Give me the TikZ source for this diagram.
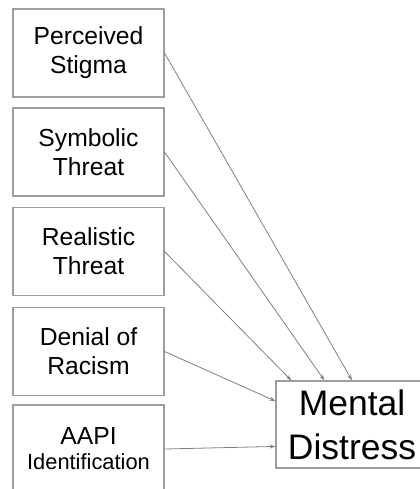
\documentclass[tikz,border=0pt]{standalone}
\usepackage{xcolor}
\usepackage{fontspec}
\setmainfont{Liberation Sans}
\usepackage{tikz}
\usetikzlibrary{positioning,arrows.meta,calc}
\definecolor{boxgray}{HTML}{9E9E9E}
\definecolor{linkgray}{HTML}{808080}
\tikzset{
  predictor/.style={draw=boxgray, line width=0.8pt, inner sep=0pt,
    minimum width=113.25pt, minimum height=66pt, align=center,
    font=\fontsize{18.5}{21.75}\selectfont},
  outcome/.style={draw=boxgray, line width=0.8pt, inner sep=0pt,
    minimum width=114pt, minimum height=65.25pt, align=center,
    font=\fontsize{26.6}{33}\selectfont},
  link/.style={draw=linkgray, line width=0.6pt, -{Stealth[length=4.5pt,width=3pt]}}
}

\begin{document}
\begin{tikzpicture}[x=0.75pt,y=-0.75pt]
  \useasboundingbox (0,0) rectangle (420,489);
  \clip (0,0) rectangle (420,489);
  \node[predictor] (stigma) at (88.5,53) {Perceived\\Stigma};
  \node[predictor] (symbolic) at (88.5,152) {Symbolic\\Threat};
  \node[predictor] (realistic) at (88.5,251.5) {Realistic\\Threat};
  \node[predictor] (denial) at (88.5,351.5) {Denial of\\Racism};
  \node[predictor] (aapi) at (88.5,449) {AAPI\\[-3pt]{\fontsize{16.4}{18.75}\selectfont Identification}};
  \node[outcome] (distress) at (352,424.5) {Mental\\Distress};
  \draw[link] (stigma.east) -- (distress.north);
  \draw[link] (symbolic.east) -- (distress.122);
  \draw[link] (realistic.east) -- (distress.144);
  \draw[link] (denial.east) -- (distress.163);
  \draw[link] (aapi.east) -- (distress.196);
\end{tikzpicture}
\end{document}
